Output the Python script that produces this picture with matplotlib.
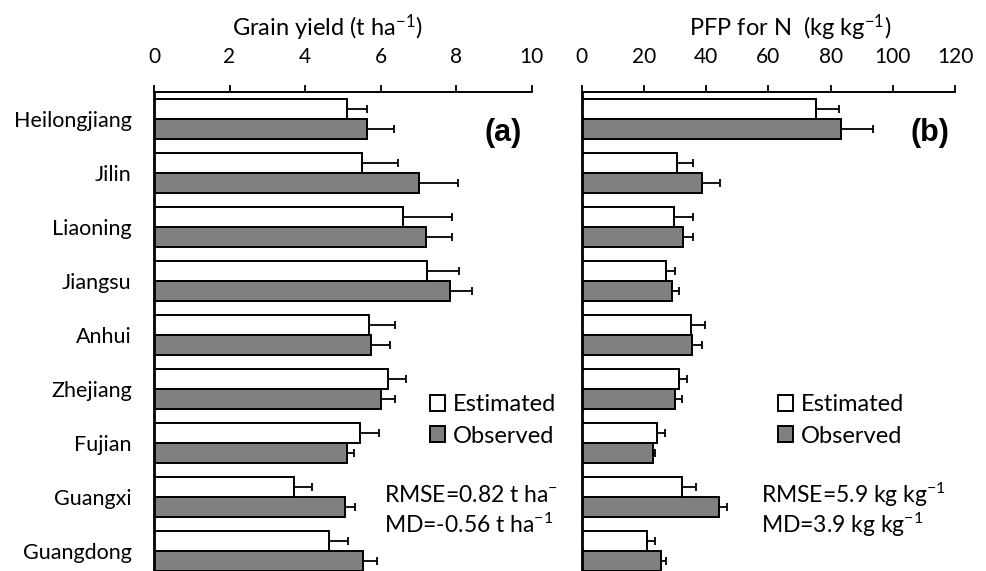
import matplotlib
matplotlib.use("Agg")
import matplotlib.pyplot as plt
import numpy as np
from matplotlib.transforms import Bbox, TransformedBbox

plt.rcParams['font.family'] = ['Lato', 'DejaVu Sans']
plt.rcParams['mathtext.fontset'] = 'custom'
plt.rcParams['mathtext.rm'] = 'Lato'
plt.rcParams['mathtext.default'] = 'regular'

provinces = ["Heilongjiang", "Jilin", "Liaoning", "Jiangsu", "Anhui",
             "Zhejiang", "Fujian", "Guangxi", "Guangdong"]

yield_est = [5.10, 5.52, 6.58, 7.23, 5.68, 6.20, 5.45, 3.71, 4.63]
yield_est_err = [0.53, 0.95, 1.30, 0.85, 0.70, 0.47, 0.52, 0.47, 0.51]
yield_obs = [5.65, 7.01, 7.20, 7.83, 5.74, 6.00, 5.12, 5.05, 5.54]
yield_obs_err = [0.71, 1.05, 0.69, 0.60, 0.51, 0.38, 0.18, 0.28, 0.36]

pfp_est = [75.2, 30.5, 29.8, 27.0, 35.2, 31.2, 24.3, 32.4, 21.1]
pfp_est_err = [7.6, 5.4, 5.9, 3.1, 4.3, 2.5, 2.5, 4.2, 2.5]
pfp_obs = [83.3, 38.8, 32.7, 28.9, 35.6, 30.1, 22.8, 44.2, 25.4]
pfp_obs_err = [10.4, 5.7, 3.1, 2.4, 3.2, 2.0, 0.9, 2.4, 1.6]

yield_ticks = [0, 2, 4, 6, 8, 10]
pfp_ticks = [0, 20, 40, 60, 80, 100, 120]

W, H = 986, 571
fig = plt.figure(figsize=(W / 100, H / 100), dpi=100)

top_px = 92.3
ax1 = fig.add_axes([154 / W, 0, (531.7 - 154) / W, 1 - top_px / H])
ax2 = fig.add_axes([581.7 / W, 0, (955 - 581.7) / W, 1 - top_px / H])

pos = np.arange(len(provinces))
bh = 0.37
obs_color = "#808080"


def draw(ax, est, est_err, obs, obs_err, ticks, xmax, title, title_x, tag, tag_x,
         leg_xy, stats, stats_x, show_labels):
    z = np.zeros(len(est))
    ax.barh(pos - bh / 2, est, height=bh, color="white", edgecolor="black",
            linewidth=1.4, label="Estimated", zorder=2)
    ax.barh(pos + bh / 2, obs, height=bh, color=obs_color, edgecolor="black",
            linewidth=1.4, label="Observed", zorder=2)
    ax.errorbar(est, pos - bh / 2, xerr=[z, est_err], fmt="none", ecolor="black",
                elinewidth=1.3, capsize=3, capthick=1.3, zorder=3)
    ax.errorbar(obs, pos + bh / 2, xerr=[z, obs_err], fmt="none", ecolor="black",
                elinewidth=1.3, capsize=3, capthick=1.3, zorder=3)
    ax.set_xlim(0, xmax)
    ax.set_ylim(8.365, -0.5)
    ax.set_xticks(ticks)
    ax.set_xticklabels([str(t) for t in ticks])
    ax.xaxis.tick_top()
    ax.tick_params(axis="x", direction="out", length=5, width=1.3, pad=13,
                   labelsize=15, colors="black")
    ax.set_yticks(pos)
    if show_labels:
        ax.set_yticklabels(provinces)
    else:
        ax.set_yticklabels([])
    ax.tick_params(axis="y", length=0, pad=16, labelsize=15.5)
    for s in ["right", "bottom"]:
        ax.spines[s].set_visible(False)
    ax.spines["left"].set_linewidth(2.0)
    ax.spines["top"].set_linewidth(1.4)
    ax.text(title_x, H - 28, title, transform=None, ha="center", va="center",
            fontsize=17)
    ax.text(tag_x, H - 133, tag, transform=None, ha="center", va="center",
            fontsize=22, fontweight="bold", family=["Liberation Sans"])
    ax.legend(loc="upper left", bbox_to_anchor=(leg_xy[0] / W, 1 - leg_xy[1] / H),
              bbox_transform=fig.transFigure, frameon=False, fontsize=17,
              handlelength=0.65, handleheight=0.65, handletextpad=0.3,
              labelspacing=0.45, borderpad=0, borderaxespad=0)
    for i, (txt, yy) in enumerate(zip(stats, [495, 525])):
        t = ax.text(stats_x, H - yy, txt, transform=None, ha="left", va="center",
                    fontsize=16.5)
        if i == 0 and stats_x < 500:
            t.set_clip_box(TransformedBbox(Bbox([[0, 0], [557 / W, 1]]),
                                           fig.transFigure))
            t.set_clip_on(True)


draw(ax1, yield_est, yield_est_err, yield_obs, yield_obs_err, yield_ticks, 10,
     "Grain yield (t ha$^{-1}$)", 327, "(a)", 503, (430, 394),
     ["RMSE=0.82 t ha$^{-1}$", "MD=-0.56 t ha$^{-1}$"], 384, True)
draw(ax2, pfp_est, pfp_est_err, pfp_obs, pfp_obs_err, pfp_ticks, 120,
     "PFP for N  (kg kg$^{-1}$)", 790, "(b)", 930, (778, 394),
     ["RMSE=5.9 kg kg$^{-1}$", "MD=3.9 kg kg$^{-1}$"], 761, False)

fig.savefig("out.png", dpi=100)
